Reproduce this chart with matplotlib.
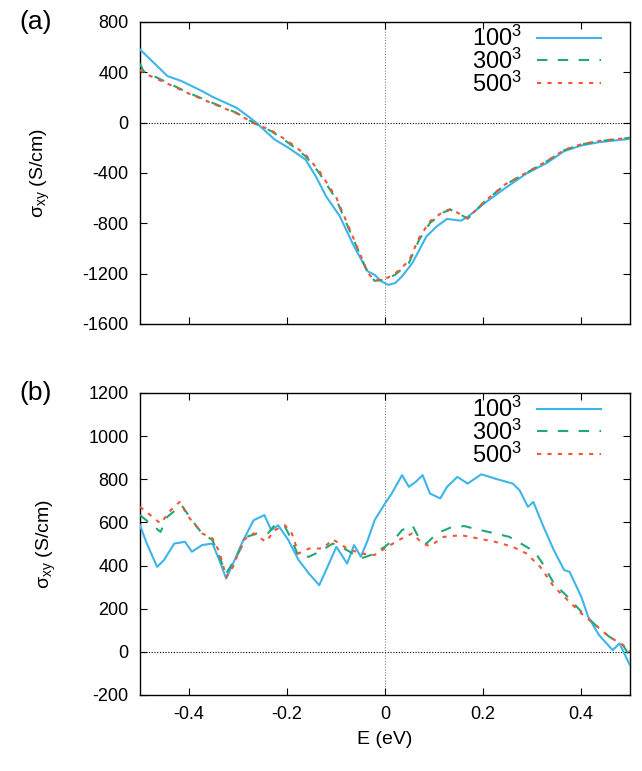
import matplotlib
matplotlib.use("Agg")
import matplotlib.pyplot as plt

plt.rcParams["font.family"] = ["Liberation Sans", "DejaVu Sans"]
plt.rcParams["axes.unicode_minus"] = False
plt.rcParams["mathtext.fontset"] = "custom"
plt.rcParams["mathtext.rm"] = "Liberation Sans"
plt.rcParams["mathtext.it"] = "Liberation Sans"

# Panel (a) data
a_e_100 = [-0.5, -0.479, -0.444, -0.415, -0.373, -0.352, -0.303, -0.275, -0.261, -0.225,
           -0.197, -0.162, -0.141, -0.120, -0.092, -0.063, -0.035, -0.021, -0.007, 0.007,
           0.021, 0.035, 0.056, 0.085, 0.106, 0.127, 0.155, 0.169, 0.204, 0.246,
           0.289, 0.331, 0.366, 0.401, 0.437, 0.5]
a_s_100 = [582, 503, 370, 330, 250, 205, 118, 38, -7, -135,
           -200, -294, -427, -586, -745, -984, -1183, -1210, -1263, -1290,
           -1276, -1223, -1117, -904, -825, -766, -780, -750, -639, -520,
           -405, -320, -227, -182, -156, -129]

a_e_300 = [-0.5, -0.493, -0.444, -0.401, -0.352, -0.303, -0.268, -0.232, -0.197, -0.162,
           -0.134, -0.099, -0.070, -0.049, -0.035, -0.021, 0.0, 0.021, 0.049, 0.070,
           0.092, 0.120, 0.134, 0.155, 0.169, 0.204, 0.246, 0.289, 0.331, 0.366,
           0.401, 0.437, 0.5]
a_s_300 = [470, 410, 317, 237, 157, 78, -2, -68, -161, -267,
           -400, -612, -878, -1064, -1197, -1258, -1250, -1210, -1117, -931,
           -798, -713, -692, -732, -764, -626, -493, -400, -307, -220,
           -174, -148, -121]
a_s_500 = [420, 395, 310, 232, 152, 74, -4, -62, -150, -255,
           -385, -598, -865, -1060, -1195, -1255, -1245, -1200, -1100, -915,
           -785, -705, -688, -730, -762, -624, -490, -398, -305, -218,
           -172, -146, -120]

# Panel (b) data
b_e_100 = [-0.5, -0.486, -0.465, -0.451, -0.430, -0.408, -0.394, -0.373, -0.352, -0.338,
           -0.324, -0.310, -0.289, -0.268, -0.246, -0.232, -0.218, -0.197, -0.176, -0.155,
           -0.134, -0.120, -0.099, -0.077, -0.063, -0.049, -0.035, -0.021, 0.0, 0.014,
           0.035, 0.049, 0.063, 0.077, 0.092, 0.113, 0.127, 0.148, 0.169, 0.197,
           0.225, 0.261, 0.275, 0.292, 0.303, 0.324, 0.345, 0.366, 0.377, 0.401,
           0.415, 0.437, 0.465, 0.479, 0.5]
b_s_100 = [587, 502, 394, 425, 502, 510, 464, 495, 502, 425,
           340, 409, 518, 610, 634, 564, 587, 518, 425, 363,
           309, 379, 487, 409, 495, 441, 518, 610, 687, 734,
           819, 765, 788, 819, 734, 711, 765, 811, 780, 823,
           803, 780, 749, 672, 695, 579, 471, 379, 371, 255,
           163, 78, 8, 39, -61]

b_e_300 = [-0.5, -0.479, -0.458, -0.444, -0.415, -0.394, -0.373, -0.352, -0.338, -0.324,
           -0.303, -0.282, -0.261, -0.239, -0.225, -0.204, -0.190, -0.176, -0.155, -0.134,
           -0.106, -0.077, -0.049, -0.028, 0.0, 0.021, 0.035, 0.056, 0.070, 0.085,
           0.106, 0.134, 0.162, 0.190, 0.225, 0.254, 0.289, 0.306, 0.324, 0.345,
           0.373, 0.401, 0.430, 0.458, 0.486, 0.5]
b_s_300 = [634, 595, 556, 626, 680, 610, 549, 518, 441, 363,
           441, 533, 549, 549, 587, 580, 518, 441, 441, 464,
           502, 471, 433, 449, 487, 526, 564, 587, 526, 502,
           549, 576, 583, 567, 549, 533, 487, 464, 402, 317,
           255, 186, 124, 70, 32, -22]

b_e_500 = [-0.5, -0.479, -0.458, -0.437, -0.419, -0.401, -0.373, -0.352, -0.338, -0.324,
           -0.310, -0.289, -0.268, -0.243, -0.225, -0.204, -0.190, -0.176, -0.155, -0.127,
           -0.106, -0.077, -0.049, -0.021, 0.0, 0.028, 0.056, 0.077, 0.092, 0.120,
           0.155, 0.190, 0.225, 0.261, 0.289, 0.317, 0.345, 0.373, 0.401, 0.430,
           0.458, 0.486, 0.5]
b_s_500 = [672, 634, 595, 657, 695, 626, 549, 526, 464, 348,
           394, 518, 549, 510, 564, 587, 549, 456, 479, 479,
           521, 479, 456, 449, 479, 518, 549, 502, 490, 533,
           541, 526, 510, 487, 456, 394, 302, 240, 178, 124,
           70, 32, 1]

labels = ["100$^3$", "300$^3$", "500$^3$"]
colors = ["#3db5ea", "#22a876", "#f2553a"]

fig = plt.figure(figsize=(6.42, 7.71), dpi=100)
ax_a = fig.add_axes([0.218, 0.580, 0.763, 0.3915])
ax_b = fig.add_axes([0.218, 0.0986, 0.763, 0.3917])

panels = [
    (ax_a, [(a_e_100, a_s_100), (a_e_300, a_s_300), (a_e_300, a_s_500)],
     (-1600, 800), range(-1600, 801, 400), "(a)"),
    (ax_b, [(b_e_100, b_s_100), (b_e_300, b_s_300), (b_e_500, b_s_500)],
     (-200, 1200), range(-200, 1201, 200), "(b)"),
]

for ax, series, ylim, yticks, tag in panels:
    ax.axhline(0, color="black", lw=0.8, ls=(0, (1, 1.5)), zorder=1)
    ax.axvline(0, color="gray", lw=0.8, ls=(0, (1, 1.5)), zorder=1)
    (e1, s1), (e3, s3), (e5, s5) = series
    ax.plot(e1, s1, color=colors[0], lw=1.5, label=labels[0], zorder=3)
    ax.plot(e3, s3, color=colors[1], lw=1.5, ls=(0, (5, 5)), label=labels[1], zorder=3)
    ax.plot(e5, s5, color=colors[2], lw=1.5, ls=(0, (2, 3)), label=labels[2], zorder=4)
    ax.set_xlim(-0.5, 0.5)
    ax.set_ylim(*ylim)
    ax.set_yticks(list(yticks))
    ax.set_xticks([-0.4, -0.2, 0, 0.2, 0.4])
    ax.tick_params(direction="in", top=True, right=True, length=5, width=0.8,
                   labelsize=13, pad=8)
    for sp in ax.spines.values():
        sp.set_linewidth(1.0)
    ax.set_ylabel("σ$_\\mathrm{xy}$ (S/cm)", fontsize=14, labelpad=22)
    ax.text(-0.214, 1.0, tag, transform=ax.transAxes, fontsize=19, va="center", ha="center")
    ax.legend(loc="upper right", bbox_to_anchor=(0.97, 1.035), frameon=False,
              markerfirst=False, fontsize=17, handlelength=2.7, handletextpad=0.65,
              labelspacing=-0.1, borderaxespad=0.2)

ax_a.set_xticklabels([])
ax_b.set_xticklabels(["-0.4", "-0.2", "0", "0.2", "0.4"])
ax_b.set_xlabel("E (eV)", fontsize=14, labelpad=6)

fig.savefig("out.png", dpi=100)
